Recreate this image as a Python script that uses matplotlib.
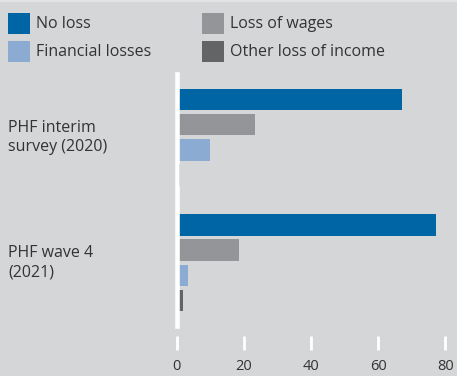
import matplotlib
matplotlib.use("Agg")
import matplotlib.pyplot as plt
import matplotlib.transforms as mtransforms
from matplotlib.patches import Rectangle
import numpy as np

# Survey waves (top to bottom) and income-loss categories
surveys = ["PHF interim\nsurvey (2020)", "PHF wave 4\n(2021)"]
categories = ["No loss", "Loss of wages", "Financial losses", "Other loss of income"]
no_loss = [67.0, 77.1]
loss_of_wages = [23.4, 18.7]
financial_losses = [10.0, 3.3]
other_loss = [1.0, 2.0]
x_ticks = [0, 20, 40, 60, 80]

colors = ["#0065a4", "#939598", "#8babd3", "#636466"]
bg = "#d5d6d8"
text_color = "#333333"

plt.rcParams["font.family"] = ["Open Sans", "DejaVu Sans"]

W, H = 457, 376
fs = 11.5
fs_px = fs * 100 / 72

fig = plt.figure(figsize=(W / 100, H / 100), dpi=100, facecolor=bg)
# thin light strip along the top edge
fig.patches.append(Rectangle((0, 1 - 2 / H), 1, 2 / H, transform=fig.transFigure,
                             facecolor="#e2e3e4", edgecolor="none"))

ax = fig.add_axes([176.5 / W, 1 - 326 / H, (457 - 176.5) / W, (326 - 74) / H])
ax.set_facecolor(bg)

series = [no_loss, loss_of_wages, financial_losses, other_loss]
offsets = [-0.3, -0.1, 0.1, 0.3]
ypos = np.arange(len(surveys))
handles = []
for vals, off, col, name in zip(series, offsets, colors, categories):
    h = ax.barh(ypos + off, vals, height=0.17, color=col, label=name, zorder=2)
    handles.append(h)

ax.set_xlim(0, (457 - 176.5) / 3.36)
ax.set_ylim(1.505, -0.505)

for s in ["top", "right"]:
    ax.spines[s].set_visible(False)
ax.spines["left"].set_color("white")
ax.spines["left"].set_linewidth(3.3)
ax.spines["left"].set_zorder(3)
ax.spines["bottom"].set_position(("outward", 7))
ax.spines["bottom"].set_visible(False)

ax.set_xticks(x_ticks)
ax.set_xticklabels([str(t) for t in x_ticks])
ax.tick_params(axis="x", direction="out", length=10, width=2, color="white",
               pad=7, labelsize=10.5, labelcolor=text_color)
ax.set_yticks([])

# group labels: left-aligned at a fixed figure x, vertically at each group
label_tr = mtransforms.blended_transform_factory(fig.transFigure, ax.transData)
for y, lab in zip(ypos, surveys):
    ax.text(8 / W, y, lab, transform=label_tr, ha="left", va="center",
            fontsize=fs, color=text_color, linespacing=1.25)

# legend swatches: 22 x 21 px; patch height = fs*hh - 0.35*fs*(hh - 0.7)
hh = (21 / fs_px - 0.35 * 0.7) / 0.65
order = [0, 2, 1, 3]
leg_kw = dict(loc="upper left", bbox_to_anchor=(8 / W, 1 - 12.7 / H),
              ncol=2, frameon=False, fontsize=fs, borderpad=0,
              handlelength=22 / fs_px, handleheight=hh,
              handletextpad=6 / fs_px, labelspacing=7 / fs_px, borderaxespad=0)

# measure first-column text width so the second column starts at x=202px
leg = fig.legend([handles[i] for i in order], [categories[i] for i in order],
                 columnspacing=2.0, **leg_kw)
fig.canvas.draw()
r = fig.canvas.get_renderer()
w1 = max(t.get_window_extent(r).width for t in leg.get_texts()[:2])
leg.remove()
colsp = (202 - (8 + 22 + 6 + w1)) / fs_px
leg = fig.legend([handles[i] for i in order], [categories[i] for i in order],
                 columnspacing=colsp, **leg_kw)
for t in leg.get_texts():
    t.set_color(text_color)

fig.savefig("out.png", dpi=100, facecolor=bg)
